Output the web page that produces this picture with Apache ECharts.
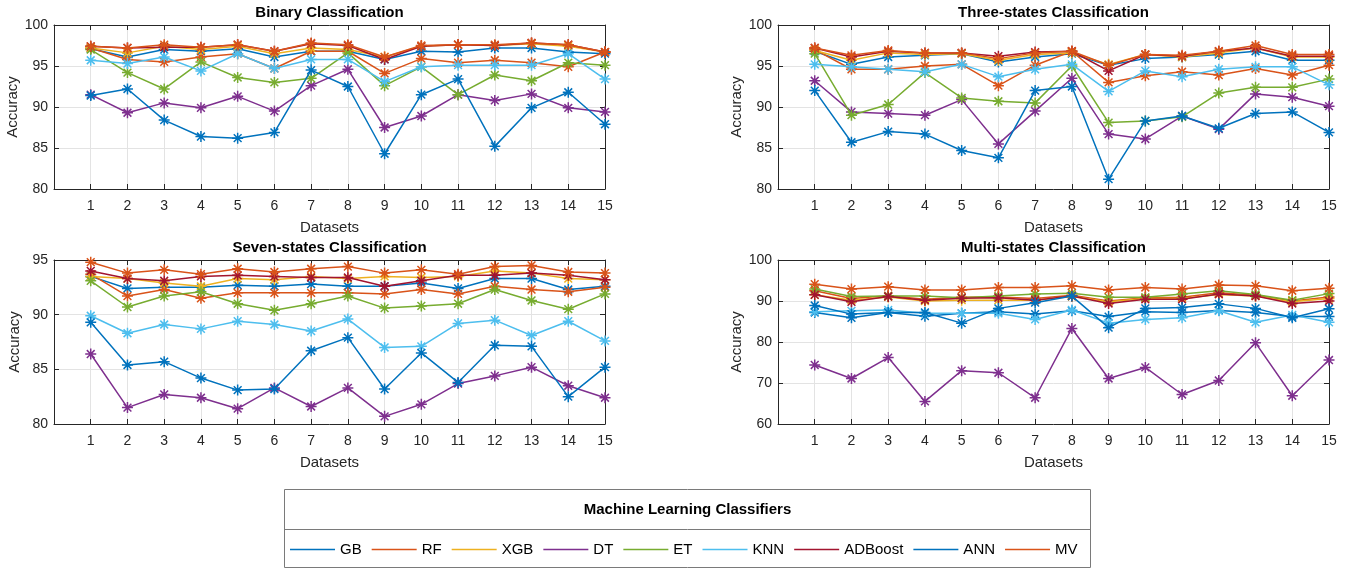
<!DOCTYPE html>
<html><head><meta charset="utf-8">
<script src="https://cdn.jsdelivr.net/npm/echarts@6/dist/echarts.min.js"></script>
<style>html,body{margin:0;padding:0;background:#fff}#c{width:1350px;height:570px}</style>
</head><body><div id="c"></div>
<script>
const DATASETS = [1,2,3,4,5,6,7,8,9,10,11,12,13,14,15];
const CLASSIFIERS = ['GB','RF','XGB','DT','ET','KNN','ADBoost','ANN','MV'];
const COLORS = ['#0072BD','#D95319','#EDB120','#7E2F8E','#77AC30','#4DBEEE','#A2142F','#0072BD','#D95319'];
const TITLES = ['Binary Classification','Three-states Classification','Seven-states Classification','Multi-states Classification'];
const Y_MIN = [80, 80, 80, 60];
const Y_MAX = [100, 100, 95, 100];
const Y_STEP = [5, 5, 5, 10];

// Binary
const binGB  = [97.1,96.1,97.0,96.8,97.1,96.1,96.8,96.8,95.8,96.8,96.7,97.2,97.2,96.7,96.5];
const binRF  = [97.2,95.8,95.5,96.1,96.5,94.7,96.8,96.8,94.1,95.9,95.4,95.7,95.4,94.9,96.7];
const binXGB = [97.2,96.6,97.4,97.0,97.4,96.5,97.2,97.0,96.1,97.4,97.6,97.5,97.7,97.4,96.7];
const binDT  = [91.5,89.3,90.5,89.9,91.3,89.5,92.6,94.6,87.5,88.9,91.5,90.8,91.6,89.9,89.4];
const binET  = [97.0,94.2,92.2,95.5,93.6,93.0,93.5,96.6,92.6,94.9,91.5,93.9,93.2,95.4,95.1];
const binKNN = [95.7,95.3,96.1,94.4,96.5,94.7,95.8,95.8,93.1,94.9,95.1,95.1,95.1,96.5,93.4];
const binADB = [97.4,97.2,97.3,97.3,97.6,96.8,97.7,97.5,95.8,97.4,97.6,97.5,97.8,97.6,96.7];
const binANN = [91.4,92.2,88.4,86.4,86.2,86.9,94.5,92.5,84.3,91.5,93.4,85.2,89.9,91.8,87.9];
const binMV  = [97.4,97.2,97.6,97.3,97.6,96.8,97.8,97.6,96.1,97.5,97.6,97.6,97.8,97.6,96.7];

// Three-states
const thrGB  = [96.8,95.2,96.1,96.3,96.5,95.5,96.1,96.5,95.1,95.9,96.1,96.4,96.8,95.7,95.7];
const thrRF  = [97.0,94.6,94.6,95.0,95.2,92.6,95.1,96.8,93.0,93.8,94.3,93.9,94.7,93.9,95.1];
const thrXGB = [96.9,95.7,96.6,96.4,96.5,95.7,96.4,96.6,95.2,96.4,96.1,96.6,97.2,96.1,96.1];
const thrDT  = [93.2,89.4,89.2,89.0,90.9,85.5,89.5,93.5,86.7,86.1,88.9,87.3,91.6,91.2,90.1];
const thrET  = [96.5,89.0,90.3,94.2,91.1,90.7,90.5,95.0,88.1,88.3,88.8,91.7,92.4,92.4,93.4];
const thrKNN = [95.2,94.9,94.6,94.3,95.2,93.7,94.6,95.2,91.9,94.4,93.7,94.6,94.9,94.9,92.7];
const thrADB = [97.2,96.1,96.8,96.6,96.6,96.2,96.7,96.8,94.4,96.4,96.2,96.8,97.2,96.2,96.2];
const thrANN = [92.0,85.7,87.0,86.7,84.7,83.8,92.0,92.5,81.2,88.3,88.9,87.4,89.2,89.4,86.9];
const thrMV  = [97.2,96.3,96.9,96.6,96.6,95.9,96.6,96.8,95.1,96.4,96.3,96.8,97.5,96.4,96.4];

// Seven-states
const sevGB  = [93.5,92.4,92.5,92.5,92.7,92.6,92.8,92.6,92.6,92.9,92.4,93.3,93.3,92.3,92.6];
const sevRF  = [93.7,91.7,92.3,91.5,92.0,92.0,92.0,92.0,91.9,92.3,91.9,92.6,92.3,92.1,92.5];
const sevXGB = [93.5,93.3,92.9,92.6,93.3,93.2,93.5,93.3,93.5,93.4,93.5,94.0,93.8,93.3,93.2];
const sevDT  = [86.4,81.5,82.7,82.4,81.4,83.3,81.6,83.3,80.7,81.8,83.7,84.4,85.2,83.5,82.4];
const sevET  = [93.1,90.7,91.7,92.1,91.0,90.4,91.0,91.7,90.6,90.8,91.0,92.3,91.3,90.5,91.9];
const sevKNN = [89.9,88.3,89.1,88.7,89.4,89.1,88.5,89.6,87.0,87.1,89.2,89.5,88.1,89.4,87.6];
const sevADB = [94.0,93.3,93.1,93.5,93.6,93.5,93.4,93.4,92.6,93.1,93.6,93.6,93.8,93.6,93.2];
const sevANN = [89.3,85.4,85.7,84.2,83.1,83.2,86.7,87.9,83.2,86.5,83.8,87.2,87.1,82.5,85.2];
const sevMV  = [94.8,93.8,94.1,93.7,94.2,93.9,94.2,94.4,93.8,94.1,93.7,94.4,94.5,93.9,93.8];

// Multi-states
const mulGB  = [87.2,85.9,87.2,86.3,87.0,87.4,86.8,87.6,86.2,87.4,87.2,87.7,87.2,86.2,86.2];
const mulRF  = [92.5,90.6,91.3,90.4,90.9,91.0,90.6,91.4,90.0,90.8,90.9,92.0,91.4,90.0,91.0];
const mulXGB = [91.5,90.2,91.0,90.0,90.2,90.2,90.2,91.1,89.8,90.6,90.6,91.6,91.2,89.8,90.6];
const mulDT  = [74.4,71.1,76.2,65.5,73.0,72.5,66.4,83.3,71.1,73.8,67.2,70.6,79.8,66.9,75.6];
const mulET  = [92.9,91.1,91.2,91.2,90.8,91.2,91.7,91.9,90.9,90.9,91.7,92.5,91.6,90.2,91.8];
const mulKNN = [87.4,87.6,87.8,87.0,87.0,87.0,85.5,87.8,84.6,85.5,85.9,87.6,84.8,86.6,84.8];
const mulADB = [91.5,89.8,91.1,90.2,90.7,90.8,90.2,91.2,89.4,90.4,90.4,91.7,91.2,89.4,90.0];
const mulANN = [88.9,86.8,87.2,87.2,84.6,88.2,89.6,91.2,83.5,88.2,88.4,89.3,88.2,85.9,88.1];
const mulMV  = [94.1,92.9,93.5,92.7,92.7,93.3,93.3,93.7,92.7,93.3,92.9,93.9,93.7,92.5,93.1];

const PANELS = [
  [binGB,binRF,binXGB,binDT,binET,binKNN,binADB,binANN,binMV],
  [thrGB,thrRF,thrXGB,thrDT,thrET,thrKNN,thrADB,thrANN,thrMV],
  [sevGB,sevRF,sevXGB,sevDT,sevET,sevKNN,sevADB,sevANN,sevMV],
  [mulGB,mulRF,mulXGB,mulDT,mulET,mulKNN,mulADB,mulANN,mulMV]
];

const FONT = 'Liberation Sans, Arial, Helvetica, sans-serif';
const AX = '#262626';
const GRIDC = '#e3e3e3';
const GRIDS = [
  {left:54, top:25, width:551, height:164},
  {left:778, top:25, width:551, height:164},
  {left:54, top:260, width:551, height:164},
  {left:778, top:260, width:551, height:164}
];
const ASTER = 'path://M5,0L5,10M0,5L10,5M1.46,1.46L8.54,8.54M1.46,8.54L8.54,1.46';

const xAxes = [], yAxes = [], series = [], graphics = [];
GRIDS.forEach((g, p) => {
  xAxes.push({
    gridIndex:p, type:'value', min:0, max:15, interval:1, position:'bottom',
    axisLine:{show:true, onZero:false, lineStyle:{color:AX, width:1}},
    axisTick:{show:true, inside:true, length:5, lineStyle:{color:AX}},
    axisLabel:{fontFamily:FONT, fontSize:14, color:AX, margin:10, formatter:v => v === 0 ? '' : String(v)},
    splitLine:{show:true, lineStyle:{color:GRIDC, width:1}},
    name:'Datasets', nameLocation:'middle', nameGap:31,
    nameTextStyle:{fontFamily:FONT, fontSize:15, color:AX}
  });
  xAxes.push({
    gridIndex:p, type:'value', min:0, max:15, interval:1, position:'top',
    axisLine:{show:true, onZero:false, lineStyle:{color:AX, width:1}},
    axisTick:{show:true, inside:true, length:5, lineStyle:{color:AX}},
    axisLabel:{show:false}, splitLine:{show:false}
  });
  yAxes.push({
    gridIndex:p, type:'value', min:Y_MIN[p], max:Y_MAX[p], interval:Y_STEP[p], position:'left',
    axisLine:{show:true, onZero:false, lineStyle:{color:AX, width:1}},
    axisTick:{show:true, inside:true, length:5, lineStyle:{color:AX}},
    axisLabel:{fontFamily:FONT, fontSize:14, color:AX, margin:6},
    splitLine:{show:true, lineStyle:{color:GRIDC, width:1}},
    name:'Accuracy', nameLocation:'middle', nameGap:32,
    nameTextStyle:{fontFamily:FONT, fontSize:15, color:AX}
  });
  yAxes.push({
    gridIndex:p, type:'value', min:Y_MIN[p], max:Y_MAX[p], interval:Y_STEP[p], position:'right',
    axisLine:{show:true, onZero:false, lineStyle:{color:AX, width:1}},
    axisTick:{show:true, inside:true, length:5, lineStyle:{color:AX}},
    axisLabel:{show:false}, splitLine:{show:false}
  });
  PANELS[p].forEach((vals, k) => {
    const c = COLORS[k];
    series.push({
      type:'line', name:CLASSIFIERS[k], xAxisIndex:2*p, yAxisIndex:2*p,
      data: DATASETS.map((d, i) => [d, vals[i]]),
      symbol:ASTER, symbolSize:11, showAllSymbol:true,
      lineStyle:{color:c, width:1.5},
      itemStyle:{color:c, borderColor:c, borderWidth:1.5},
      emphasis:{disabled:true}, silent:true, z:2+k
    });
  });
  graphics.push({
    type:'text', x:g.left + g.width/2, y:g.top - 12,
    style:{text:TITLES[p], fontFamily:FONT, fontSize:15, fontWeight:'bold', fill:'#000',
      textAlign:'center', textVerticalAlign:'middle'}
  });
});

// Legend box
graphics.push({type:'rect', shape:{x:284.5, y:489.5, width:806, height:78}, style:{fill:'#fff', stroke:'#7a7a7a', lineWidth:1}, z:-1});
graphics.push({type:'line', shape:{x1:284.5, y1:529.5, x2:1090.5, y2:529.5}, style:{stroke:'#7a7a7a', lineWidth:1}});
graphics.push({type:'text', x:687.5, y:510, style:{text:'Machine Learning Classifiers', fontFamily:FONT, fontSize:15, fontWeight:'bold', fill:'#000', textAlign:'center', textVerticalAlign:'middle'}});

const chart = echarts.init(document.getElementById('c'), null, {renderer:'canvas'});
chart.setOption({
  animation:false,
  backgroundColor:'#fff',
  grid: GRIDS.map(g => Object.assign({containLabel:false}, g)),
  xAxis: xAxes, yAxis: yAxes, series: series,
  legend: {
    data: CLASSIFIERS, left:290, top:542, padding:0, itemGap:10,
    itemWidth:45, itemHeight:1.5, icon:'rect', selectedMode:false,
    itemStyle:{borderWidth:0},
    textStyle:{fontFamily:FONT, fontSize:15, color:'#000'}
  },
  graphic: graphics
});
</script></body></html>
